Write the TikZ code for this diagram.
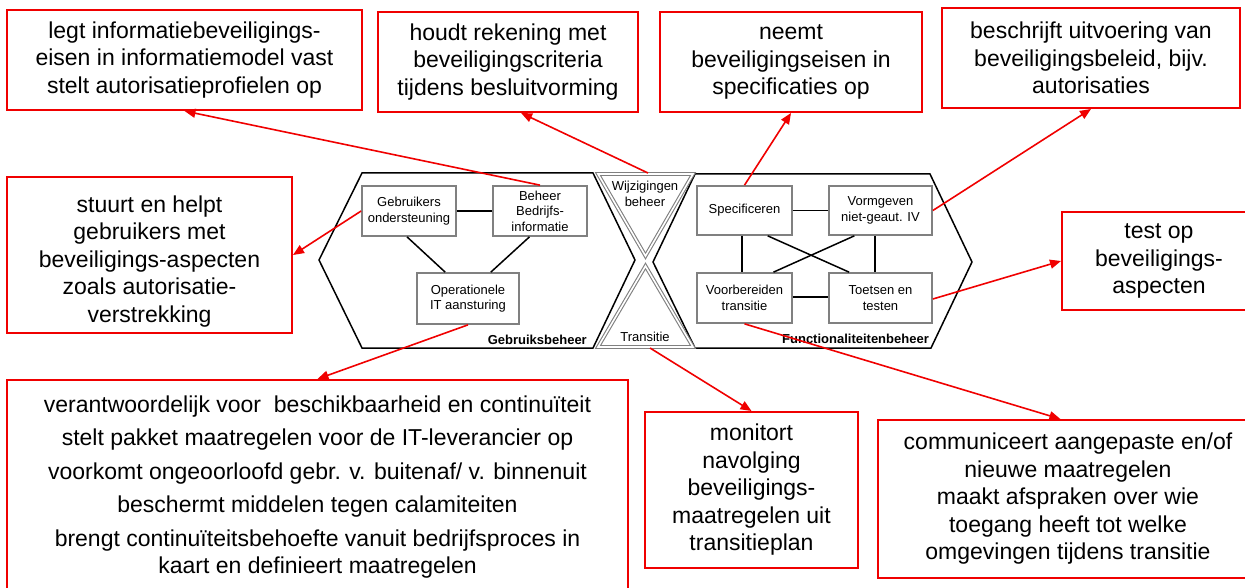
\documentclass[tikz,border=0pt]{standalone}
\usepackage{fontspec}
\setmainfont{Liberation Sans}
\usetikzlibrary{arrows.meta,calc}
\definecolor{boxred}{RGB}{240,0,0}
\definecolor{boxgray}{RGB}{128,128,128}
\tikzset{
  redbox/.style={draw=boxred, line width=2pt, fill=white, align=center, inner sep=0pt,
    font=\fontsize{23}{27.5}\selectfont},
  graybox/.style={draw=boxgray, line width=1.7pt, fill=white, align=center, inner sep=0pt,
    font=\fontsize{13}{15.5}\selectfont},
  hexline/.style={draw=black, line width=1.5pt, line join=miter},
  tri/.style={draw=boxgray, line width=1.1pt, double=white, double distance=1.6pt, line join=miter},
  link/.style={draw=black, line width=1.5pt},
  arr/.style={draw=boxred, line width=1.6pt, -{Triangle[length=11pt,width=9pt]}},
  smalltxt/.style={font=\fontsize{13}{15.5}\selectfont, align=center, inner sep=0pt},
  boldlbl/.style={font=\bfseries\fontsize{13}{15}\selectfont, inner sep=0pt}
}
\begin{document}
\begin{tikzpicture}[x=1pt,y=-1pt]
\useasboundingbox (0,0) rectangle (1245,588);
\clip (0,0) rectangle (1245,588);
\fill[white] (0,0) rectangle (1245,588);

% hexagons
\draw[hexline] (362,173) -- (593,173) -- (635,260) -- (593,348) -- (362,348) -- (319,260) -- cycle;
\draw[hexline] (695,174) -- (930,174) -- (972,262) -- (931,348) -- (695,348) -- (653,262) -- cycle;

% hourglass triangles
\draw[tri] (598,174) -- (693,174) -- (645.5,256) -- cycle;
\draw[tri] (598,347) -- (693,347) -- (645.5,266) -- cycle;
\node[smalltxt] (wijz) at (645,194) {Wijzigingen\\beheer};
\node[smalltxt] (trans) at (645,337) {Transitie};
\coordinate (wijztop) at (648,173);
\coordinate (transbot) at (650,348);

% labels
\node[boldlbl, anchor=east] (gblbl) at (587,340) {Gebruiksbeheer};
\node[boldlbl, anchor=east] (fblbl) at (929,339) {Functionaliteitenbeheer};

% inner boxes left
\node[graybox, minimum width=94pt, minimum height=50pt] (go) at (409,211) {Gebruikers\\ondersteuning};
\node[graybox, minimum width=94pt, minimum height=50pt] (bb) at (540,211) {Beheer\\Bedrijfs-\\informatie};
\node[graybox, minimum width=102pt, minimum height=51pt] (oit) at (468,298.5) {Operationele\\IT aansturing};

% inner boxes right
\node[graybox, minimum width=95pt, minimum height=49pt] (spec) at (744.5,210.5) {Specificeren};
\node[graybox, minimum width=103pt, minimum height=49pt] (vorm) at (880.5,210.5) {Vormgeven\\niet-geaut. IV};
\node[graybox, minimum width=95pt, minimum height=50pt] (voor) at (744.5,298) {Voorbereiden\\transitie};
\node[graybox, minimum width=103pt, minimum height=50pt] (toets) at (880.5,298) {Toetsen en\\testen};

% black links
\draw[link] (go.east) -- (bb.west);
\draw[link] ([xshift=-2pt]go.south) -- ($(oit.north west)!0.28!(oit.north east)$);
\draw[link] ($(bb.south west)!0.39!(bb.south east)$) -- ($(oit.north west)!0.72!(oit.north east)$);
\draw[link] (spec.east) -- (vorm.west);
\draw[link] ([yshift=1pt]voor.east) -- ([yshift=1pt]toets.west);
\draw[link] ([xshift=-2.5pt]spec.south) -- ([xshift=-2.5pt]voor.north);
\draw[link] ([xshift=-5.5pt]vorm.south) -- ([xshift=-5.5pt]toets.north);
\draw[link] ($(spec.south west)!0.74!(spec.south east)$) -- ($(toets.north west)!0.2!(toets.north east)$);
\draw[link] ($(vorm.south west)!0.25!(vorm.south east)$) -- ($(voor.north west)!0.8!(voor.north east)$);

% red text boxes
\node[redbox, minimum width=355pt, minimum height=100pt] (b1) at (184.5,60) {legt informatiebeveiligings-\\eisen in informatiemodel vast\\stelt autorisatieprofielen op};
\node[redbox, minimum width=260pt, minimum height=100pt] (b2) at (508,62) {houdt rekening met\\beveiligingscriteria\\tijdens besluitvorming};
\node[redbox, minimum width=262pt, minimum height=100pt] (b3) at (791,62) {neemt\\beveiligingseisen in\\specificaties op};
\node[redbox, minimum width=298pt, minimum height=100pt] (b4) at (1091,58) {beschrijft uitvoering van\\beveiligingsbeleid, bijv.\\autorisaties};
\node[redbox, minimum width=285pt, minimum height=156pt] (b5) at (149.5,255) {\rule{0pt}{29pt}stuurt en helpt\\gebruikers met\\beveiligings-aspecten\\zoals autorisatie-\\verstrekking};
\node[redbox, minimum width=194pt, minimum height=98pt] (b6) at (1159,261) {test op\\beveiligings-\\aspecten};
\node[redbox, minimum width=621pt, minimum height=214pt] (b7) at (317.5,487) {verantwoordelijk voor\ \ beschikbaarheid en continuïteit\\[6pt]stelt pakket maatregelen voor de IT-leverancier op\\[6pt]voorkomt ongeoorloofd gebr. v. buitenaf/ v. binnenuit\\[6pt]beschermt middelen tegen calamiteiten\\[6pt]brengt continuïteitsbehoefte vanuit bedrijfsproces in\\kaart en definieert maatregelen};
\node[redbox, minimum width=213pt, minimum height=156pt] (b8) at (751.5,490) {monitort\\navolging\\beveiligings-\\maatregelen uit\\transitieplan};
\node[redbox, minimum width=380pt, minimum height=158pt] (b9) at (1068,499) {communiceert aangepaste en/of\\nieuwe maatregelen\\maakt afspraken over wie\\toegang heeft tot welke\\omgevingen tijdens transitie};

% red arrows
\draw[arr] (bb.north) -- (b1.south);
\draw[arr] (wijztop) -- ($(b2.south west)!0.55!(b2.south east)$);
\draw[arr] (spec.north) -- (b3.south);
\draw[arr] (vorm.east) -- (b4.south);
\draw[arr] (go.west) -- (b5.east);
\draw[arr] ([yshift=-1pt]toets.east) -- (b6.west);
\draw[arr] (oit.south) -- (b7.north);
\draw[arr] (transbot) -- (b8.north);
\draw[arr] (voor.south) -- ($(b9.north west)!0.48!(b9.north east)$);
\end{tikzpicture}
\end{document}
